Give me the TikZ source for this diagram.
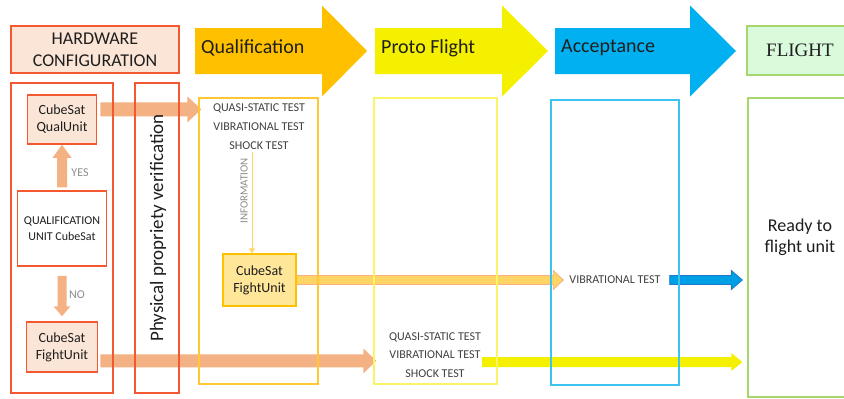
\documentclass[tikz,border=0pt]{standalone}
\usepackage{fontspec}
\setmainfont{Carlito}
\newfontfamily\flightfont{Liberation Serif}
\usepackage{tikz}
\usetikzlibrary{calc,backgrounds,arrows.meta}

\definecolor{hwred}{RGB}{244,88,48}
\definecolor{peach}{RGB}{251,229,214}
\definecolor{arrowPeach}{RGB}{244,177,131}
\definecolor{qualOrange}{RGB}{255,192,0}
\definecolor{qualLine}{RGB}{255,200,50}
\definecolor{protoYellow}{RGB}{245,240,0}
\definecolor{protoLine}{RGB}{250,245,100}
\definecolor{accBlue}{RGB}{0,176,240}
\definecolor{accLine}{RGB}{60,195,242}
\definecolor{flightFill}{RGB}{218,250,220}
\definecolor{flightLine}{RGB}{165,215,110}
\definecolor{fuFill}{RGB}{255,230,153}
\definecolor{midArrow}{RGB}{255,212,100}
\definecolor{blueArrow}{RGB}{0,160,230}
\definecolor{blueEdge}{RGB}{30,120,200}
\definecolor{testGray}{RGB}{64,64,64}
\definecolor{labelGray}{RGB}{140,140,140}
\definecolor{infoYellow}{RGB}{255,214,100}
\definecolor{ink}{RGB}{30,30,30}

\tikzstyle{hwbox} = [draw=hwred, line width=1.5pt, align=center, inner sep=1pt, text=ink]
\tikzstyle{unit} = [hwbox, fill=peach, minimum width=69pt, minimum height=49pt, font=\fontsize{14}{17}\selectfont]
\tikzstyle{column} = [draw, line width=1.3pt, minimum height=286pt]
\tikzstyle{tests} = [align=center, text=testGray, inner sep=1pt, font=\fontsize{12}{19}\selectfont]
\tikzstyle{phase} = [anchor=west, inner sep=0pt, text=ink, font=\fontsize{20}{24}\selectfont]
\tikzstyle{answer} = [text=labelGray, inner sep=1pt, font=\fontsize{12}{14}\selectfont]

% block arrow: style, from, to, half shaft, half head, head length
\newcommand{\fatarrow}[6]{%
  \coordinate (fatBase) at ($(#3)!#6!(#2)$);
  \path[#1] ($(#2)!#4!90:(#3)$) -- ($(fatBase)!#4!90:(#3)$) -- ($(fatBase)!#5!90:(#3)$) -- (#3)
    -- ($(fatBase)!#5!-90:(#3)$) -- ($(fatBase)!#4!-90:(#3)$) -- ($(#2)!#4!-90:(#3)$) -- cycle;
}

\begin{document}
\begin{tikzpicture}[x=1pt,y=-1pt]
	\useasboundingbox (0,0) rectangle (844,399);
	\clip (0,0) rectangle (844,399);

	% hardware side
	\node[hwbox, fill=peach, minimum width=168pt, minimum height=47pt, font=\fontsize{18}{22}\selectfont] (hwConf) at (95,49.5) {HARDWARE\\CONFIGURATION};
	\node[hwbox, minimum width=102pt, minimum height=310pt] (leftCol) at (62,238) {};
	\node[hwbox, minimum width=44pt, minimum height=310pt] (physCol) at (157,238) {};
	\node[rotate=90, text=ink, font=\fontsize{19}{23}\selectfont] (physText) at (158,228) {Physical propriety verification};
	\node[unit] (quUnit) at (62,119.5) {CubeSat\\QualUnit};
	\node[hwbox, fill=white, minimum width=89pt, minimum height=75pt, font=\fontsize{12}{16}\selectfont] (qualUnitCs) at (62,228.5) {QUALIFICATION\\UNIT CubeSat};
	\node[unit, minimum width=71pt, minimum height=50pt] (fuLeft) at (62,347) {CubeSat\\FightUnit};
	\node[answer] (yesLabel) at (80,173) {YES};
	\node[answer] (noLabel) at (77,295) {NO};

	% phases
	\node[phase] (qualLabel) at (201,48) {Qualification};
	\node[phase] (protoLabel) at (381,48) {Proto Flight};
	\node[phase] (accLabel) at (561,48) {Acceptance};
	\node[draw=flightLine, fill=flightFill, line width=1.5pt, minimum width=106pt, minimum height=49pt, text=ink, font=\flightfont\fontsize{19}{22}\selectfont] (flightHead) at (800,50.5) {FLIGHT};

	\node[column, draw=qualLine, minimum width=119pt] (qualCol) at (258.5,241) {};
	\node[tests] (qualTests) at (259,127) {QUASI-STATIC TEST\\VIBRATIONAL TEST\\SHOCK TEST};
	\node[rotate=90, text=labelGray, inner sep=1pt, font=\fontsize{11}{13}\selectfont] (infoText) at (244,191) {INFORMATION};
	\node[draw=qualOrange, fill=fuFill, line width=1.3pt, minimum width=73pt, minimum height=52pt, align=center, text=ink, font=\fontsize{14}{17}\selectfont] (fuMid) at (259.5,280) {CubeSat\\FightUnit};

	\node[column, draw=protoLine, minimum width=123pt] (protoCol) at (435.5,241) {};
	\node[tests, font=\fontsize{12}{18.5}\selectfont] (protoTests) at (435,355) {QUASI-STATIC TEST\\VIBRATIONAL TEST\\SHOCK TEST};

	\node[column, draw=accLine, minimum width=128pt, minimum height=285pt] (accCol) at (615,242.5) {};
	\node[tests] (accTest) at (615,280) {VIBRATIONAL TEST};

	\node[column, draw=flightLine, minimum width=104pt, minimum height=299pt] (flightCol) at (800,247.5) {};
	\node[align=center, text=ink, font=\fontsize{18}{21}\selectfont] (readyText) at (800,237.5) {Ready to\\flight unit};

	\coordinate (infoS) at ($(qualTests.south)+(-7,1)$);
	\draw[infoYellow, line width=0.8pt, -{Triangle[length=5pt,width=6pt]}] (infoS) -- (infoS |- fuMid.north);

	\begin{pgfonlayer}{background}
		\coordinate (qualS) at (195,51);
		\coordinate (qualE) at (367,51);
		\coordinate (protoS) at (375,51);
		\coordinate (protoE) at (548,51);
		\coordinate (accS) at (555,51);
		\coordinate (accE) at (736,51);
		\fatarrow{fill=qualOrange}{qualS}{qualE}{23pt}{45.5pt}{45pt}
		\fatarrow{fill=protoYellow}{protoS}{protoE}{23pt}{45.5pt}{46pt}
		\fatarrow{fill=accBlue}{accS}{accE}{23pt}{45.5pt}{46pt}

		% units to the tests
		\coordinate[xshift=3pt] (quOut) at ($(quUnit.north east)!0.3!(quUnit.south east)$);
		\coordinate[xshift=3pt] (qualIn) at (qualCol.west |- quOut);
		\fatarrow{fill=arrowPeach}{quOut}{qualIn}{7pt}{13pt}{14pt}
		\coordinate[xshift=2pt] (fuOut) at ($(fuLeft.north east)!0.77!(fuLeft.south east)$);
		\coordinate[xshift=3pt] (protoIn) at (protoCol.west |- fuOut);
		\fatarrow{fill=arrowPeach}{fuOut}{protoIn}{6.5pt}{12.5pt}{13pt}
		\coordinate[yshift=3pt] (yesS) at (qualUnitCs.north);
		\fatarrow{fill=arrowPeach}{yesS}{quUnit.south}{5pt}{9.5pt}{13pt}
		\coordinate[yshift=-9pt] (noS) at (qualUnitCs.south);
		\coordinate[yshift=5pt] (noE) at (fuLeft.north);
		\fatarrow{fill=arrowPeach}{noS}{noE}{4.5pt}{8.5pt}{10pt}

		% flight unit path
		\coordinate (accIn) at ($(accTest.west |- fuMid.east)+(-5,0)$);
		\fatarrow{fill=midArrow, draw=arrowPeach, line width=0.8pt}{fuMid.east}{accIn}{4.5pt}{9.5pt}{10pt}
		\coordinate[xshift=8pt] (accOut) at (accTest.east);
		\coordinate (flightInA) at ($(flightCol.west |- accOut)+(-5,0)$);
		\fatarrow{fill=blueArrow, draw=blueEdge, line width=0.8pt}{accOut}{flightInA}{4.5pt}{9.5pt}{11pt}
		\coordinate (protoOut) at ($(protoTests.east)+(0,7)$);
		\coordinate (flightInB) at ($(flightCol.west |- protoOut)+(-5,0)$);
		\fatarrow{fill=protoYellow}{protoOut}{flightInB}{5pt}{9pt}{11pt}
	\end{pgfonlayer}
\end{tikzpicture}
\end{document}
